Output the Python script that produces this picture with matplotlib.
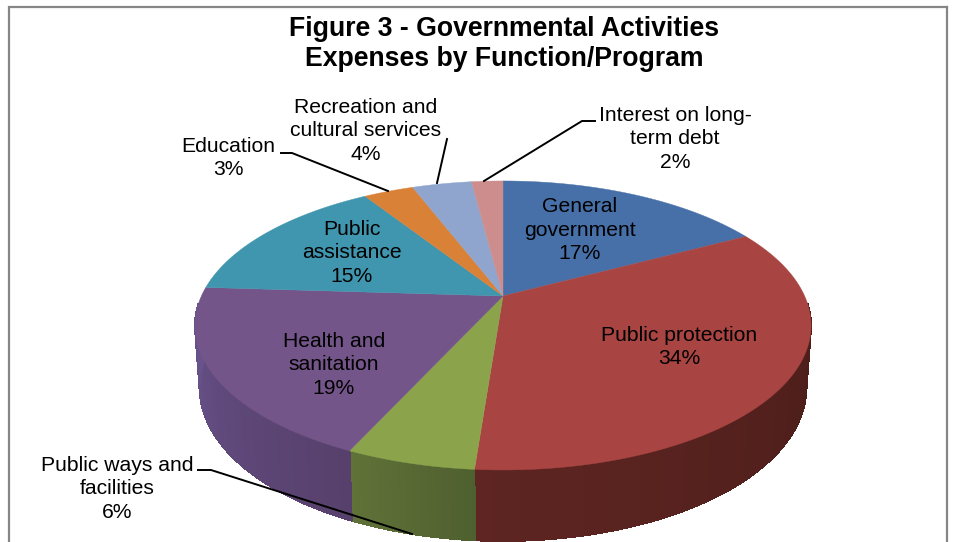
import numpy as np
import matplotlib
matplotlib.use("Agg")
import matplotlib.pyplot as plt
from matplotlib.colors import to_rgb
from matplotlib.patches import Polygon

plt.rcParams['font.family'] = ['Liberation Sans', 'DejaVu Sans']

title = "Figure 3 - Governmental Activities\nExpenses by Function/Program"
categories = ["General\ngovernment", "Public protection", "Public ways and\nfacilities",
              "Health and\nsanitation", "Public\nassistance", "Education",
              "Recreation and\ncultural services", "Interest on long-\nterm debt"]
values = [17.2, 34.0, 5.6, 19.2, 15.0, 3.2, 3.8, 2.0]
top_colors = ["#4870a8", "#a84442", "#8ba44b", "#745589", "#4096ae", "#da8138", "#8fa5ce", "#cc8d8c"]
wall_start = ["#2c4466", "#431a16", "#4f6030", "#57406b", "#2c6070", "#8a5020", "#5a6a88", "#885a5a"]
wall_end = ["#2c4466", "#5e2522", "#607238", "#6a5590", "#2c6070", "#8a5020", "#5a6a88", "#885a5a"]
label_pos = [(580, 230), (679, 347), (117, 489), (334, 365), (352, 253), (228, 158), (366, 131), (675, 139)]
leaders = [None, None, [(198, 470), (211, 470), (412, 534)], None, None,
           [(281, 153), (292, 153), (388, 191)], [(447, 139), (437, 183)],
           [(595, 121), (582, 121), (484, 181)]]

AX, AY, B, A, K = 503, 296, 301.6, 138.5, -0.204


def project(theta):
    u, v = np.sin(theta), -np.cos(theta)
    d = 1 + K * v
    return AX + B * u / d, AY + A * v / d


def project_bottom(theta):
    x, y = project(theta)
    v = -np.cos(theta)
    return AX + (x - AX) * 0.985, y + 59 + 12 * v


fig = plt.figure(figsize=(9.56, 5.42), dpi=100)
ax = fig.add_axes([0, 0, 1, 1])
ax.set_xlim(0, 956)
ax.set_ylim(542, 0)
ax.axis("off")

edges = np.cumsum([0] + values) / sum(values) * 2 * np.pi

# side wall
for i in range(len(values)):
    t0, t1 = edges[i], edges[i + 1]
    n = max(int((t1 - t0) / 0.01), 2)
    ts = np.linspace(t0, t1, n + 1)
    c0, c1 = np.array(to_rgb(wall_start[i])), np.array(to_rgb(wall_end[i]))
    for j in range(n):
        f = j / max(n - 1, 1)
        c = c0 + (c1 - c0) * f
        a, b = ts[j], ts[j + 1] + 0.004
        xa, ya = project(a); xb, yb = project(b)
        xc, yc = project_bottom(b); xd, yd = project_bottom(a)
        if -np.cos(a) > 0.05 and -np.cos(b) > 0.05:
            ax.add_patch(Polygon([(xa, ya), (xb, yb), (xc, yc), (xd, yd)], closed=True,
                                 fc=c, ec=c, lw=0.6, antialiased=False, zorder=2))

# top surface
for i in range(len(values)):
    ts = np.linspace(edges[i], edges[i + 1], 200)
    x, y = project(ts)
    pts = [(AX, AY)] + list(zip(x, y))
    ax.add_patch(Polygon(pts, closed=True, fc=top_colors[i], ec=top_colors[i], lw=0.3, zorder=3))

# frame
ax.plot([9.5, 9.5, 947], [542, 7, 7], color="#868686", lw=1.6, zorder=1, solid_joinstyle="miter")
ax.plot([947, 947], [7, 542], color="#868686", lw=1.6, zorder=1)

# leaders
for pts in leaders:
    if pts:
        xs, ys = zip(*pts)
        ax.plot(xs, ys, color="black", lw=1.4, zorder=5)

# labels
for name, v, (x, y) in zip(categories, values, label_pos):
    ax.text(x, y, f"{name}\n{round(v)}%", ha="center", va="center", fontsize=15.2,
            color="black", linespacing=1.33, zorder=6)

ax.text(504, 44, title, ha="center", va="center", fontsize=19.2, fontweight="bold",
        color="black", linespacing=1.2, zorder=6)

fig.savefig("out.png", dpi=100)
